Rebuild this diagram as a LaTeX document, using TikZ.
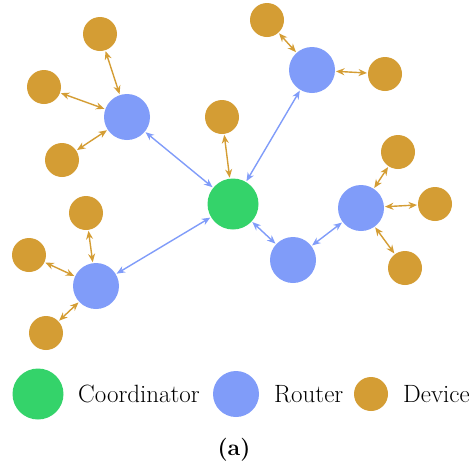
\documentclass[tikz,border=0pt]{standalone}
\usetikzlibrary{arrows.meta}
\definecolor{coordgreen}{RGB}{52,211,106}
\definecolor{routerblue}{RGB}{128,156,249}
\definecolor{deviceorange}{RGB}{212,157,52}
\tikzset{
  coord/.style={circle,fill=coordgreen,minimum size=51pt,inner sep=0pt,outer sep=1pt},
  router/.style={circle,fill=routerblue,minimum size=46pt,inner sep=0pt,outer sep=1pt},
  device/.style={circle,fill=deviceorange,minimum size=34pt,inner sep=0pt,outer sep=1pt},
  rlink/.style={routerblue,line width=1.4pt,{Stealth[length=8.5pt,width=7pt]}-{Stealth[length=8.5pt,width=7pt]}},
  dlink/.style={deviceorange,line width=1.4pt,{Stealth[length=8.5pt,width=7pt]}-{Stealth[length=8.5pt,width=7pt]}},
  legend/.style={anchor=west,inner sep=0pt,font=\fontsize{25}{30}\selectfont}
}
\begin{document}
\begin{tikzpicture}[x=1pt,y=-1pt]
      \useasboundingbox (0,0) rectangle (469,469);
      \draw
        (233,204) node[coord] (c){}
        (127,117) node[router] (r1){}
        (312,70) node[router] (r2){}
        (361,208) node[router] (r3){}
        (293,260) node[router] (r4){}
        (96,286) node[router] (r5){}
        (100,34) node[device] (d1){}
        (44,87) node[device] (d2){}
        (62,160) node[device] (d3){}
        (267,20) node[device] (d4){}
        (385,74) node[device] (d5){}
        (222,117) node[device] (d6){}
        (398,152) node[device] (d7){}
        (435,204) node[device] (d8){}
        (405,268) node[device] (d9){}
        (86,213) node[device] (d10){}
        (29,255) node[device] (d11){}
        (46,333) node[device] (d12){};
      \begin{scope}[rlink]
        \draw (c) to (r1);
        \draw (c) to (r2);
        \draw (c) to (r4);
        \draw (c) to (r5);
        \draw (r4) to (r3);
      \end{scope}
      \begin{scope}[dlink]
        \draw (d6) to (c);
        \draw (d1) to (r1);
        \draw (d2) to (r1);
        \draw (d3) to (r1);
        \draw (d4) to (r2);
        \draw (d5) to (r2);
        \draw (d7) to (r3);
        \draw (d8) to (r3);
        \draw (d9) to (r3);
        \draw (d10) to (r5);
        \draw (d11) to (r5);
        \draw (d12) to (r5);
      \end{scope}
      % legend
      \node[coord] (lc) at (38,394) {};
      \node[legend] (lct) at (78,394) {Coordinator};
      \node[router] (lr) at (236,394) {};
      \node[legend] (lrt) at (274,394) {Router};
      \node[device] (ld) at (371,394) {};
      \node[legend] (ldt) at (403,394) {Device};
      \node[font=\fontsize{23}{28}\selectfont\bfseries] (cap) at (234,450) {(a)};
    \end{tikzpicture}
\end{document}
